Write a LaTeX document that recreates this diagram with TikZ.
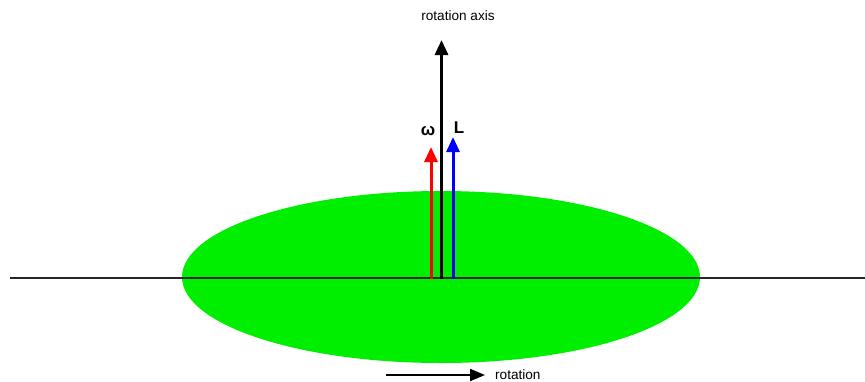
\documentclass[tikz,border=0pt]{standalone}
\usepackage{fontspec}
\setmainfont{Liberation Sans}
\usetikzlibrary{arrows.meta,positioning}
\definecolor{discgreen}{RGB}{0,238,0}
\tikzset{
  axis arrow/.style={-{Triangle[length=15pt,width=13pt]},line width=3pt},
  spin arrow/.style={-{Triangle[length=15pt,width=12pt]},line width=2pt},
  base line/.style={line width=1.5pt,black!85},
  disc/.style={fill=discgreen},
  small label/.style={font=\fontsize{13.6}{15}\selectfont,inner sep=1pt},
  vector label/.style={font=\fontsize{17}{19}\selectfont\bfseries,inner sep=1pt},
}

\begin{document}
\begin{tikzpicture}[x=1pt,y=-1pt]
  \useasboundingbox (0,0) rectangle (865,381);
  \fill[disc] (441,277) ellipse [x radius=259, y radius=86];
  \coordinate (left) at (10,278);
  \coordinate (right) at (865,278);
  \draw[base line] (left) -- (right);
  % vectors on the axis
  \coordinate (o) at (441.5,279);
  \coordinate (o w) at (431,279);
  \coordinate (o l) at (453,279);
  \coordinate (axis top) at (441.5,40);
  \coordinate (w top) at (431,147);
  \coordinate (l top) at (453,137);
  \draw[axis arrow] (o) -- (axis top);
  \draw[axis arrow,red] (o w) -- (w top);
  \draw[axis arrow,blue] (o l) -- (l top);
  \node[small label] (axis label) at (458,16) {rotation axis};
  \node[vector label] (omega) at (428,131) {ω};
  \node[vector label] (ang mom) at (459,128) {L};
  % sense of rotation
  \coordinate (r0) at (386,375);
  \coordinate (r1) at (485,375);
  \draw[spin arrow] (r0) -- (r1);
  \node[small label,right=9pt of r1] (rot label) {rotation};
\end{tikzpicture}
\end{document}
